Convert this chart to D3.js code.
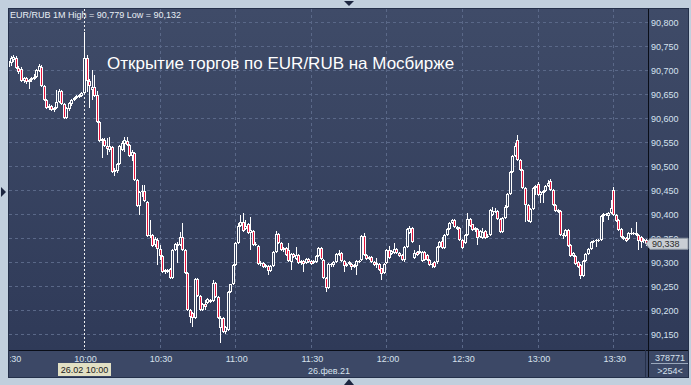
<!DOCTYPE html>
<html><head><meta charset="utf-8">
<script src="https://cdn.jsdelivr.net/npm/d3@7"></script>
<style>html,body{margin:0;padding:0;background:#c1cfdd;}svg{display:block;}</style>
</head><body><svg id="c" width="691" height="385"></svg>
<script>
// ---------- data ----------
const startTime = "2021-02-26T09:30:00";
const openP = [
90.706,90.715,90.721,90.725,90.704,90.702,90.677,90.683,90.675,90.679,
90.681,90.685,90.698,90.706,90.667,90.637,90.621,90.625,90.617,90.621,
90.633,90.656,90.629,90.600,90.619,90.629,90.637,90.642,90.644,90.646,
90.652,90.725,90.677,90.658,90.665,90.648,90.592,90.552,90.554,90.542,
90.533,90.540,90.487,90.490,90.504,90.533,90.546,90.552,90.544,90.521,
90.527,90.471,90.417,90.446,90.448,90.425,90.354,90.356,90.335,90.346,
90.327,90.312,90.279,90.283,90.285,90.267,90.325,90.337,90.335,90.352,
90.325,90.277,90.200,90.194,90.183,90.265,90.229,90.200,90.212,90.215,
90.217,90.219,90.256,90.227,90.162,90.183,90.154,90.158,90.237,90.254,
90.294,90.340,90.375,90.383,90.369,90.379,90.360,90.365,90.335,90.333,
90.296,90.298,90.290,90.292,90.281,90.292,90.321,90.358,90.340,90.325,
90.329,90.325,90.300,90.317,90.306,90.315,90.298,90.302,90.298,90.306,
90.302,90.298,90.300,90.312,90.329,90.304,90.267,90.246,90.296,90.294,
90.300,90.315,90.319,90.302,90.292,90.296,90.296,90.290,90.292,90.302,
90.304,90.354,90.315,90.306,90.310,90.300,90.294,90.296,90.287,90.277,
90.298,90.325,90.317,90.319,90.327,90.319,90.315,90.304,90.331,90.360,
90.371,90.308,90.321,90.319,90.302,90.321,90.315,90.304,90.294,90.300,
90.300,90.331,90.344,90.329,90.356,90.369,90.381,90.387,90.373,90.371,
90.346,90.340,90.356,90.390,90.379,90.367,90.369,90.352,90.350,90.365,
90.352,90.356,90.398,90.404,90.406,90.390,90.362,90.392,90.415,90.442,
90.487,90.521,90.554,90.512,90.492,90.454,90.419,90.383,90.410,90.454,
90.462,90.440,90.444,90.448,90.458,90.469,90.450,90.419,90.408,90.406,
90.356,90.354,90.367,90.335,90.312,90.312,90.300,90.294,90.271,90.302,
90.317,90.327,90.342,90.344,90.346,90.346,90.396,90.400,90.396,90.402,
90.450,90.398,90.387,90.369,90.352,90.350,90.348,90.360,90.358,90.360,
90.356,90.352,90.344,90.346];
const highP = [
90.723,90.729,90.731,90.729,90.708,90.706,90.685,90.685,90.681,90.685,
90.692,90.702,90.712,90.710,90.669,90.640,90.629,90.627,90.623,90.658,
90.660,90.658,90.631,90.623,90.633,90.640,90.644,90.648,90.650,90.654,
90.779,90.731,90.681,90.700,90.690,90.656,90.594,90.558,90.558,90.558,
90.560,90.542,90.496,90.506,90.544,90.552,90.560,90.560,90.546,90.533,
90.529,90.473,90.448,90.460,90.460,90.427,90.387,90.358,90.352,90.350,
90.335,90.315,90.285,90.285,90.287,90.327,90.340,90.342,90.362,90.381,
90.327,90.279,90.202,90.196,90.267,90.267,90.231,90.215,90.221,90.225,
90.223,90.262,90.258,90.229,90.187,90.185,90.167,90.240,90.254,90.296,
90.342,90.381,90.398,90.402,90.387,90.381,90.394,90.367,90.342,90.335,
90.302,90.300,90.296,90.294,90.294,90.323,90.365,90.360,90.342,90.331,
90.331,90.340,90.319,90.319,90.331,90.317,90.304,90.304,90.308,90.308,
90.304,90.304,90.315,90.331,90.331,90.306,90.269,90.298,90.298,90.302,
90.319,90.325,90.321,90.304,90.298,90.302,90.298,90.296,90.304,90.304,
90.356,90.360,90.317,90.312,90.312,90.302,90.308,90.298,90.287,90.298,
90.327,90.333,90.325,90.340,90.329,90.321,90.317,90.333,90.371,90.375,
90.373,90.325,90.323,90.335,90.323,90.323,90.317,90.306,90.298,90.302,
90.333,90.344,90.352,90.358,90.371,90.383,90.390,90.390,90.375,90.373,
90.348,90.358,90.402,90.392,90.379,90.373,90.371,90.367,90.371,90.367,
90.358,90.410,90.415,90.412,90.408,90.392,90.394,90.419,90.444,90.490,
90.523,90.548,90.565,90.515,90.494,90.456,90.421,90.412,90.456,90.460,
90.467,90.448,90.450,90.460,90.471,90.473,90.452,90.421,90.410,90.408,
90.360,90.369,90.369,90.337,90.321,90.315,90.302,90.296,90.304,90.319,
90.329,90.344,90.346,90.348,90.348,90.398,90.402,90.402,90.404,90.429,
90.456,90.400,90.390,90.371,90.354,90.352,90.362,90.371,90.362,90.383,
90.358,90.354,90.350,90.348];
const lowP = [
90.702,90.708,90.717,90.702,90.692,90.675,90.673,90.671,90.660,90.675,
90.679,90.683,90.696,90.665,90.635,90.619,90.617,90.615,90.612,90.619,
90.631,90.627,90.598,90.598,90.615,90.625,90.635,90.640,90.642,90.644,
90.650,90.654,90.621,90.637,90.644,90.590,90.550,90.517,90.540,90.523,
90.529,90.485,90.479,90.485,90.502,90.531,90.529,90.542,90.519,90.510,
90.469,90.415,90.398,90.435,90.425,90.352,90.350,90.331,90.331,90.294,
90.304,90.277,90.275,90.277,90.265,90.265,90.323,90.298,90.333,90.323,
90.275,90.198,90.173,90.165,90.181,90.227,90.198,90.198,90.200,90.212,
90.215,90.217,90.225,90.181,90.132,90.152,90.150,90.156,90.235,90.252,
90.292,90.337,90.373,90.362,90.367,90.358,90.325,90.333,90.333,90.294,
90.292,90.287,90.287,90.273,90.279,90.290,90.319,90.337,90.323,90.321,
90.312,90.300,90.283,90.308,90.304,90.296,90.294,90.279,90.296,90.298,
90.294,90.296,90.298,90.310,90.304,90.265,90.237,90.244,90.290,90.290,
90.298,90.312,90.300,90.279,90.290,90.294,90.283,90.287,90.273,90.298,
90.302,90.312,90.304,90.304,90.298,90.292,90.287,90.281,90.262,90.275,
90.296,90.306,90.315,90.317,90.317,90.310,90.302,90.300,90.329,90.358,
90.340,90.306,90.312,90.317,90.300,90.302,90.302,90.292,90.287,90.287,
90.296,90.329,90.327,90.327,90.354,90.367,90.379,90.371,90.367,90.344,
90.327,90.337,90.354,90.373,90.365,90.362,90.335,90.350,90.348,90.348,
90.350,90.354,90.396,90.402,90.387,90.360,90.360,90.390,90.412,90.440,
90.485,90.519,90.510,90.490,90.452,90.383,90.383,90.381,90.408,90.440,
90.437,90.423,90.423,90.446,90.456,90.448,90.417,90.404,90.402,90.354,
90.348,90.352,90.331,90.310,90.310,90.294,90.287,90.265,90.269,90.300,
90.315,90.325,90.340,90.331,90.342,90.344,90.383,90.396,90.387,90.400,
90.396,90.383,90.365,90.350,90.346,90.342,90.346,90.356,90.356,90.354,
90.325,90.329,90.340,90.333];
const closeP = [
90.719,90.725,90.727,90.704,90.696,90.677,90.683,90.675,90.679,90.683,
90.685,90.700,90.708,90.667,90.637,90.621,90.625,90.617,90.621,90.633,
90.656,90.629,90.600,90.621,90.631,90.637,90.642,90.646,90.648,90.652,
90.725,90.677,90.667,90.665,90.646,90.592,90.552,90.556,90.542,90.535,
90.542,90.487,90.492,90.504,90.542,90.548,90.554,90.544,90.521,90.529,
90.471,90.417,90.446,90.448,90.427,90.354,90.356,90.333,90.348,90.327,
90.312,90.279,90.283,90.279,90.267,90.325,90.337,90.333,90.352,90.325,
90.277,90.200,90.185,90.183,90.265,90.229,90.200,90.212,90.206,90.223,
90.221,90.256,90.227,90.183,90.183,90.154,90.165,90.237,90.254,90.294,
90.340,90.375,90.383,90.365,90.375,90.360,90.367,90.335,90.337,90.296,
90.298,90.290,90.294,90.281,90.292,90.321,90.358,90.340,90.325,90.329,
90.315,90.302,90.317,90.310,90.315,90.298,90.302,90.296,90.306,90.300,
90.296,90.302,90.312,90.329,90.306,90.267,90.246,90.296,90.294,90.300,
90.317,90.319,90.302,90.292,90.296,90.300,90.290,90.294,90.302,90.300,
90.354,90.315,90.306,90.310,90.300,90.294,90.298,90.283,90.275,90.296,
90.325,90.308,90.323,90.327,90.319,90.312,90.304,90.331,90.369,90.371,
90.342,90.319,90.315,90.323,90.321,90.304,90.304,90.294,90.296,90.290,
90.331,90.342,90.329,90.356,90.369,90.381,90.387,90.373,90.369,90.346,
90.329,90.356,90.390,90.375,90.367,90.371,90.350,90.365,90.362,90.350,
90.354,90.408,90.406,90.406,90.390,90.362,90.392,90.415,90.442,90.487,
90.521,90.542,90.512,90.492,90.454,90.419,90.385,90.410,90.454,90.458,
90.440,90.446,90.448,90.458,90.465,90.450,90.419,90.406,90.404,90.356,
90.354,90.367,90.333,90.312,90.319,90.296,90.290,90.271,90.302,90.317,
90.327,90.342,90.344,90.346,90.344,90.396,90.400,90.398,90.402,90.412,
90.398,90.385,90.367,90.352,90.348,90.344,90.360,90.358,90.360,90.356,
90.344,90.342,90.348,90.338];
const yTicks = [90.15,90.20,90.25,90.30,90.35,90.40,90.45,90.50,90.55,90.60,90.65,90.70,90.75,90.80];
const xTickLabels = ["09:30","10:00","10:30","11:00","11:30","12:00","12:30","13:00","13:30"];
const titleText = "Открытие торгов по EUR/RUB на Мосбирже";
const symbolText = "EUR/RUB 1M";
const dateLabel = "26.фев.21";
const cursorLabel = "26.02 10:00";
const cursorTime = "10:00";
const volumeText = "378771";
const barsText = ">254<";

// ---------- setup ----------
const FONT = "'Liberation Sans', Arial, sans-serif";
const svg = d3.select("#c");
const W = 691, H = 385;
const plot = {l: 9, t: 9, r: 648, b: 350};
const t0 = new Date(startTime);
const n = closeP.length;
const minute = 60000;
const times = d3.range(n).map(i => new Date(t0.getTime() + i * minute));
const x = d3.scaleTime()
  .domain([t0, new Date(t0.getTime() + n * minute)])
  .range([8.4, 8.4 + 2.52 * n]);
const y = d3.scaleLinear().domain([90.15, 90.80]).range([334, 22]);
const loc = d3.formatLocale({decimal: ",", thousands: "\u00a0", grouping: [3], currency: ["", ""]});
const fmt = loc.format(".3f");
const parseHM = s => { const [h, m] = s.split(":").map(Number); const d = new Date(t0); d.setHours(h, m, 0, 0); return d; };

// background
svg.append("rect").attr("width", W).attr("height", H).attr("fill", "#c1cfdd");
const defs = svg.append("defs");
const g1 = defs.append("linearGradient").attr("id", "bg").attr("x1", 0).attr("y1", 0).attr("x2", 0).attr("y2", 1);
g1.append("stop").attr("offset", 0).attr("stop-color", "#3f4b68");
g1.append("stop").attr("offset", 1).attr("stop-color", "#2f3a58");
defs.append("clipPath").attr("id", "clipPlot").append("rect")
  .attr("x", plot.l).attr("y", plot.t).attr("width", plot.r - plot.l).attr("height", plot.b - plot.t);
defs.append("clipPath").attr("id", "clipAxis").append("rect")
  .attr("x", 10).attr("y", plot.b).attr("width", plot.r - 10 - 5).attr("height", 30);

// panels
svg.append("rect").attr("x", 8).attr("y", 8).attr("width", 681).attr("height", 370).attr("fill", "#24304a");
svg.append("rect").attr("x", plot.l).attr("y", plot.t).attr("width", 688 - plot.l).attr("height", plot.b - plot.t).attr("fill", "url(#bg)");
svg.append("rect").attr("x", plot.l).attr("y", plot.b).attr("width", 688 - plot.l).attr("height", 377 - plot.b).attr("fill", "#3c4866");

// grid
const grid = svg.append("g").attr("clip-path", "url(#clipPlot)");
grid.selectAll("line.h").data(yTicks).join("line")
  .attr("x1", plot.l).attr("x2", plot.r)
  .attr("y1", d => Math.round(y(d)) + 0.5).attr("y2", d => Math.round(y(d)) + 0.5)
  .attr("stroke", "#5a6888").attr("stroke-dasharray", "3,3");
const xTicks = xTickLabels.map(parseHM);
grid.selectAll("line.v").data(xTicks.filter(t => d3.timeFormat("%H:%M")(t) !== cursorTime)).join("line")
  .attr("x1", d => Math.round(x(d)) + 0.5).attr("x2", d => Math.round(x(d)) + 0.5)
  .attr("y1", plot.t).attr("y2", plot.b)
  .attr("stroke", "#5a6888").attr("stroke-dasharray", "3,3");

// cursor line
const cx0 = Math.round(x(parseHM(cursorTime))) + 0.5;
svg.append("line").attr("x1", cx0).attr("x2", cx0).attr("y1", plot.t).attr("y2", plot.b)
  .attr("stroke", "#f0f0f0").attr("stroke-dasharray", "2,2");

// candles
const candles = svg.append("g").attr("clip-path", "url(#clipPlot)").attr("shape-rendering", "crispEdges");
const data = d3.range(n).map(i => ({t: times[i], o: openP[i], h: highP[i], l: lowP[i], c: closeP[i]}));
const cg = candles.selectAll("g").data(data).join("g");
cg.append("rect")
  .attr("x", d => Math.round(x(d.t)))
  .attr("width", 1)
  .attr("y", d => Math.round(y(d.h)))
  .attr("height", d => Math.max(1, Math.round(y(d.l)) - Math.round(y(d.h))))
  .attr("fill", "#ffffff");
cg.append("rect")
  .attr("x", d => Math.round(x(d.t)) - 1)
  .attr("width", 3)
  .attr("y", d => Math.round(y(Math.max(d.o, d.c))))
  .attr("height", d => Math.max(1, Math.round(y(Math.min(d.o, d.c))) - Math.round(y(Math.max(d.o, d.c)))))
  .attr("fill", "#ffffff");
cg.filter(d => Math.round(y(Math.min(d.o, d.c))) - Math.round(y(Math.max(d.o, d.c))) > 2)
  .append("rect")
  .attr("x", d => Math.round(x(d.t)))
  .attr("width", 1)
  .attr("y", d => Math.round(y(Math.max(d.o, d.c))) + 1)
  .attr("height", d => Math.round(y(Math.min(d.o, d.c))) - Math.round(y(Math.max(d.o, d.c))) - 2)
  .attr("fill", d => d.c < d.o ? "#e5143c" : "#36425f");

// axes lines
svg.append("line").attr("x1", plot.r + 0.5).attr("x2", plot.r + 0.5).attr("y1", plot.t).attr("y2", 377).attr("stroke", "#0a0e18");
svg.append("line").attr("x1", plot.l).attr("x2", 688).attr("y1", plot.b + 0.5).attr("y2", plot.b + 0.5).attr("stroke", "#0a0e18");
svg.append("line").attr("x1", 645.5).attr("x2", 645.5).attr("y1", plot.b).attr("y2", 377).attr("stroke", "#25304a");

// right axis
const yAxis = d3.axisRight(y).tickValues(yTicks).tickFormat(fmt).tickSize(0).tickPadding(3);
const ya = svg.append("g").attr("transform", `translate(${plot.r},0)`).call(yAxis);
ya.select(".domain").remove();
ya.selectAll("text").attr("fill", "#d6e2f0").attr("font-family", FONT).attr("font-size", 9).attr("dy", "0.34em");

// bottom axis
const xAxis = d3.axisBottom(x).tickValues(xTicks).tickFormat(d3.timeFormat("%H:%M")).tickSize(0).tickPadding(6);
const xa = svg.append("g").attr("clip-path", "url(#clipAxis)").append("g").attr("transform", `translate(1,${plot.b})`).call(xAxis);
xa.select(".domain").remove();
xa.selectAll("text").attr("fill", "#d6e0ec").attr("font-family", FONT).attr("font-size", 9);

svg.append("text").attr("x", 329).attr("y", 374).attr("text-anchor", "middle")
  .attr("fill", "#d6e0ec").attr("font-family", FONT).attr("font-size", 9).text(dateLabel);

// cursor tooltip
svg.append("rect").attr("x", 58).attr("y", 363).attr("width", 53).attr("height", 13).attr("fill", "#e2e0c4");
svg.append("text").attr("x", 84.5).attr("y", 373).attr("text-anchor", "middle")
  .attr("fill", "#1c1c1c").attr("font-family", FONT).attr("font-size", 9).text(cursorLabel);

// volume / bars box
svg.append("line").attr("x1", 651).attr("x2", 688).attr("y1", 363.5).attr("y2", 363.5).attr("stroke", "#9aa8bc");
svg.append("text").attr("x", 670).attr("y", 361).attr("text-anchor", "middle")
  .attr("fill", "#d6e0ec").attr("font-family", FONT).attr("font-size", 9).text(volumeText);
svg.append("text").attr("x", 670).attr("y", 374).attr("text-anchor", "middle")
  .attr("fill", "#d6e0ec").attr("font-family", FONT).attr("font-size", 9).text(barsText);

// last price marker
const lastC = closeP[n - 1];
const ly = y(lastC);
svg.append("path")
  .attr("d", `M646,${ly} L650,${ly - 5.5} L688,${ly - 5.5} L688,${ly + 5.5} L650,${ly + 5.5} Z`)
  .attr("fill", "#c9ced4").attr("stroke", "#8f98a4");
svg.append("text").attr("x", 652).attr("y", ly + 3.3).attr("fill", "#2a2a2a")
  .attr("font-family", FONT).attr("font-size", 9).text(fmt(lastC));

// header & title
svg.append("text").attr("x", 10).attr("y", 18).attr("fill", "#e8eef4")
  .attr("font-family", FONT).attr("font-size", 9)
  .text(`${symbolText} High = ${fmt(d3.max(highP))} Low = ${fmt(d3.min(lowP))}`);
svg.append("text").attr("x", 107).attr("y", 69).attr("fill", "#ffffff")
  .attr("font-family", FONT).attr("font-size", 17).text(titleText);

// frame markers
svg.append("path").attr("d", "M344,1 L354,1 L349,6 Z").attr("fill", "#1c2640");
svg.append("path").attr("d", "M344,385 L354,385 L349,379 Z").attr("fill", "#1c2640");
svg.append("path").attr("d", "M1,187 L6,192 L1,197 Z").attr("fill", "#1c2640");
</script>
</body></html>
